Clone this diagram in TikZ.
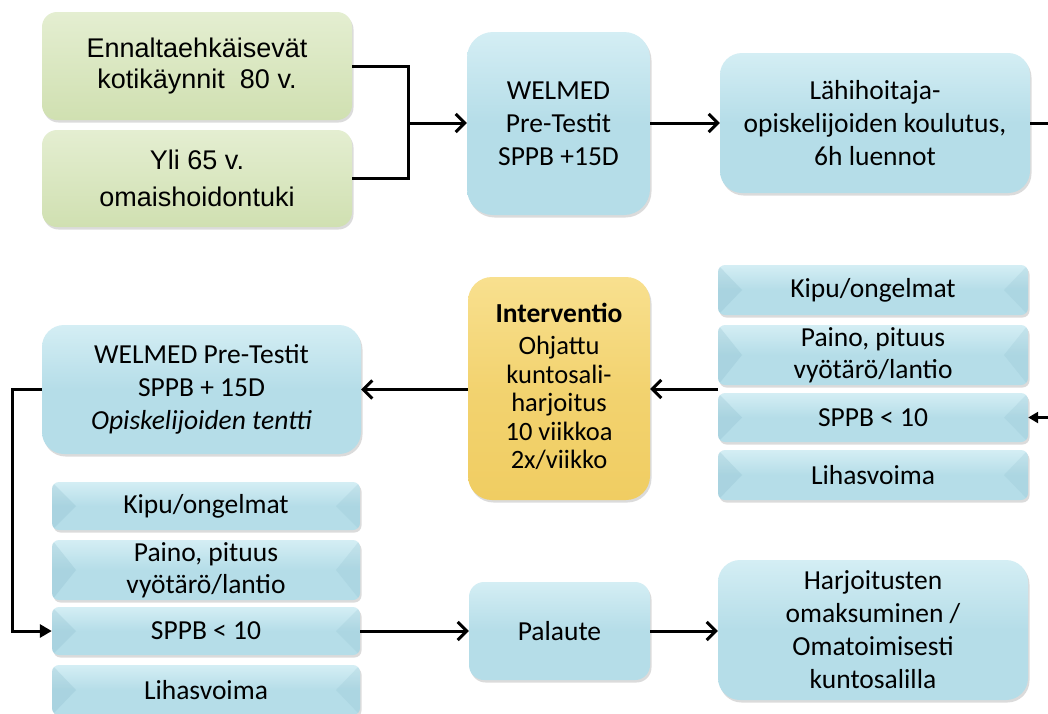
\documentclass[tikz,border=0pt]{standalone}
\usepackage{fontspec}
\setmainfont{Carlito}
\newfontfamily\arialfont{Liberation Sans}
\usetikzlibrary{arrows.meta,shadows}

\definecolor{aquaTop}{HTML}{D4EEF4}
\definecolor{aquaBot}{HTML}{B5DDE8}
\definecolor{oliveTop}{HTML}{E4EED1}
\definecolor{oliveBot}{HTML}{D0E0B1}
\definecolor{goldTop}{HTML}{F8E08F}
\definecolor{goldBot}{HTML}{F0CD62}
\definecolor{bevelDark}{HTML}{7FB3C4}

% multi-line label with fixed line spacing, raised by #1
\newcommand{\tightlines}[3]{%
  \raisebox{#1}[\height][\depth]{\parbox{#2}{\centering\lineskiplimit=-100pt #3}}}

\tikzset{
  card/.style={inner sep=0pt, align=center, text=black,
    drop shadow={opacity=0.28, shadow xshift=1.5pt, shadow yshift=-2.5pt}},
  aquabox/.style={card, top color=aquaTop, bottom color=aquaBot, middle color=aquaBot,
    font=\fontsize{27.5}{33}\selectfont},
  olivebox/.style={card, top color=oliveTop, bottom color=oliveBot,
    rounded corners=15pt, minimum width=310pt, font=\arialfont\fontsize{27}{31}\selectfont},
  goldbox/.style={card, top color=goldTop, bottom color=goldBot, middle color=goldBot!70!goldTop,
    rounded corners=24pt, font=\fontsize{26.5}{28.5}\selectfont},
  listbox/.style={aquabox, rounded corners=7pt, minimum width=310pt,
    path picture={
      \fill[sharp corners, bevelDark, opacity=0.22]
        (path picture bounding box.north west)
        -- ([xshift=24pt]path picture bounding box.west)
        -- (path picture bounding box.south west) -- cycle;
      \fill[sharp corners, bevelDark, opacity=0.16]
        (path picture bounding box.north east)
        -- ([xshift=-24pt]path picture bounding box.east)
        -- (path picture bounding box.south east) -- cycle;
    }},
  link/.style={line width=3pt, -{Straight Barb[length=9pt,width=18pt]}},
  plain/.style={line width=3pt},
  feed/.style={line width=3pt, -{Triangle[length=12pt,width=13pt]}},
}

\begin{document}
\begin{tikzpicture}[x=1pt, y=-1pt]
\useasboundingbox (0,0) rectangle (1048,713);
\clip (0,0) rectangle (1048,713);
\fill[white] (0,0) rectangle (1048,713);

% --- top row ---------------------------------------------------------
\node[olivebox, minimum height=108pt] (koti) at (197,66)
  {Ennaltaehkäisevät\\kotikäynnit~ 80 v.};
\node[olivebox, minimum height=97pt, font=\arialfont\fontsize{27}{37}\selectfont] (omais) at (197,178.5)
  {Yli 65 v.\\omaishoidontuki};

\node[aquabox, rounded corners=26pt, minimum width=183pt, minimum height=183pt] (pre1) at (558.5,123.5)
  {WELMED\\Pre-Testit\\SPPB +15D};

\node[aquabox, rounded corners=22pt, minimum width=310pt, minimum height=140pt] (koulutus) at (875,123)
  {Lähihoitaja-\\opiskelijoiden koulutus,\\6h luennot};

% --- middle row --------------------------------------------------------
\node[listbox, minimum height=50pt] (rkipu)  at (873,290) {Kipu/ongelmat};
\node[listbox, minimum height=60pt, font=\fontsize{27.5}{32}\selectfont] (rpaino) at (873,355) {Paino, pituus\\vyötärö/lantio};
\node[listbox, minimum height=49pt] (rsppb)  at (873,417.5) {SPPB < 10};
\node[listbox, minimum height=50pt] (rlihas) at (873,475) {Lihasvoima};

\node[goldbox, minimum width=182pt, minimum height=223pt] (interv) at (559,388.5)
  {\tightlines{2pt}{176pt}{{\bfseries\fontsize{27.5}{27.5}\selectfont Interventio}\\[4pt]
   Ohjattu\\kuntosali-\\harjoitus\\10 viikkoa\\2x/viikko}};

\node[aquabox, rounded corners=22pt, minimum width=319pt, minimum height=129pt] (pre2) at (201.5,389.5)
  {WELMED Pre-Testit\\SPPB + 15D\\\textit{Opiskelijoiden tentti}};

% --- bottom row --------------------------------------------------------
\node[listbox, minimum width=308pt, minimum height=48pt] (lkipu)  at (206,506) {Kipu/ongelmat};
\node[listbox, minimum width=308pt, minimum height=60pt, font=\fontsize{27.5}{32}\selectfont] (lpaino) at (206,570) {Paino, pituus\\vyötärö/lantio};
\node[listbox, minimum width=308pt, minimum height=48pt] (lsppb)  at (206,631) {SPPB < 10};
\node[listbox, minimum width=308pt, minimum height=50pt] (llihas) at (206,690) {Lihasvoima};

\node[aquabox, rounded corners=15pt, minimum width=181pt, minimum height=98pt] (palaute) at (559.5,631)
  {Palaute};

\node[aquabox, rounded corners=22pt, minimum width=310pt, minimum height=140pt] (omatoim) at (873,630)
  {Harjoitusten\\omaksuminen /\\Omatoimisesti\\kuntosalilla};

% --- connectors --------------------------------------------------------
\coordinate (join) at (408,123);
\coordinate (outTop) at (1048,123);
\coordinate (inRight) at (1048,417.5);
\coordinate (rgroup) at (718,389);
\coordinate (lturn) at (12,389.5);

\draw[plain] (koti.east) -| (join) |- (omais.east);
\draw[link] (join) -- (pre1.west |- join);
\draw[link] (pre1.east |- koulutus.west) -- (koulutus.west);
\draw[plain] (koulutus.east) -- (outTop);
\draw[line width=2.5pt, -{Triangle[length=10pt,width=11pt]}] (inRight) -- (rsppb.east);
\draw[link] (rgroup) -- (interv.east |- rgroup);
\draw[link] (interv.west |- pre2.east) -- (pre2.east);
\draw[feed] (pre2.west) -- (lturn) |- (lsppb.west);
\draw[link] (lsppb.east) -- (palaute.west);
\draw[link] (palaute.east) -- (omatoim.west |- palaute.east);
\end{tikzpicture}
\end{document}
